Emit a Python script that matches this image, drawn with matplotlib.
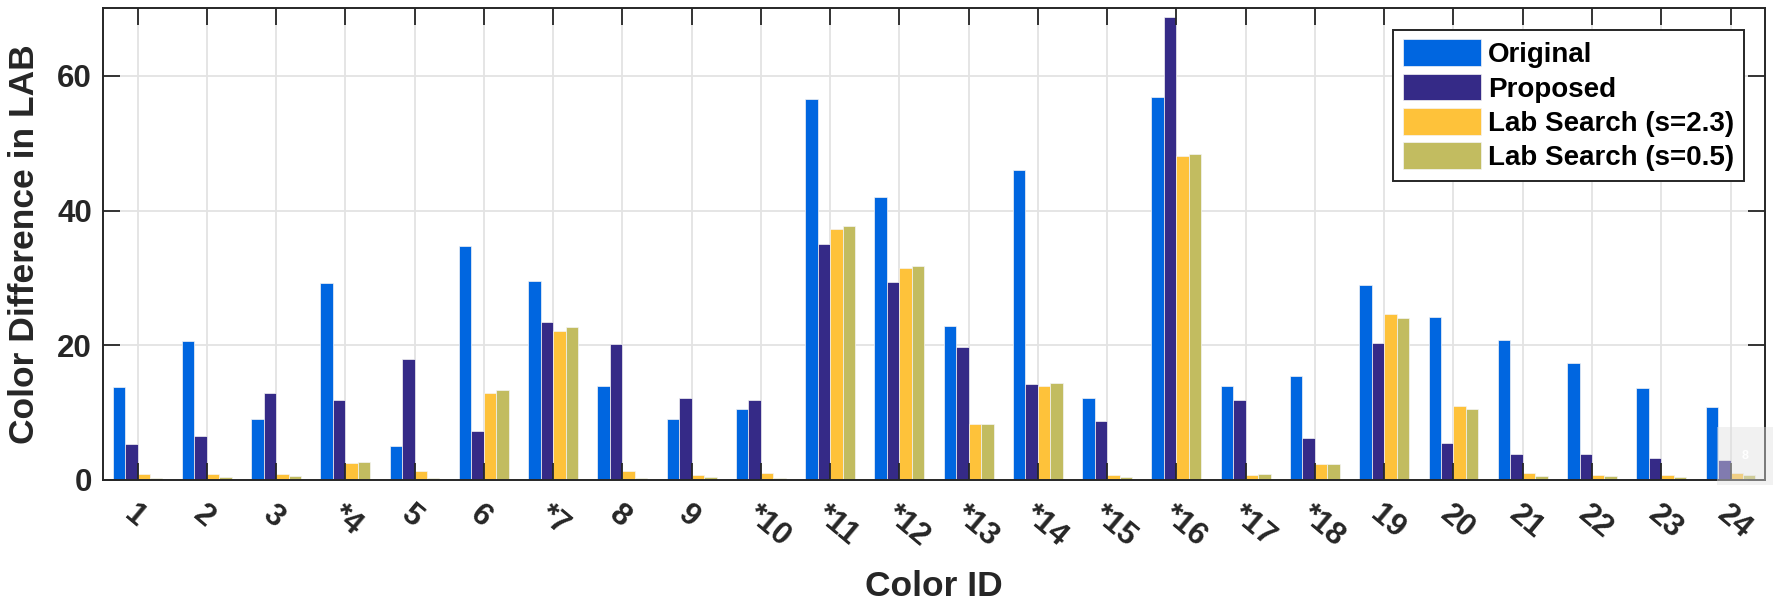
import matplotlib
matplotlib.use("Agg")
import matplotlib.pyplot as plt
from matplotlib.patches import Rectangle
import numpy as np

# values
color_ids = ['1', '2', '3', '*4', '5', '6', '*7', '8', '9', '*10', '*11', '*12',
             '*13', '*14', '*15', '*16', '*17', '*18', '19', '20', '21', '22', '23', '24']
original = [13.8, 20.6, 9.0, 29.3, 5.1, 34.8, 29.6, 14.0, 9.1, 10.5, 56.5, 42.0,
            22.9, 46.0, 12.2, 56.9, 13.9, 15.4, 29.0, 24.2, 20.8, 17.4, 13.6, 10.9]
proposed = [5.4, 6.5, 12.9, 11.9, 17.9, 7.3, 23.5, 20.2, 12.2, 11.8, 35.1, 29.4,
            19.7, 14.3, 8.8, 68.8, 11.9, 6.3, 20.4, 5.5, 3.9, 3.8, 3.2, 2.9]
lab_s23 = [0.9, 0.9, 0.9, 2.5, 1.4, 12.9, 22.1, 1.4, 0.8, 1.0, 37.2, 31.4,
           8.3, 14.0, 0.7, 48.1, 0.8, 2.4, 24.7, 11.0, 1.0, 0.7, 0.7, 1.0]
lab_s05 = [0.35, 0.4, 0.6, 2.7, 0.3, 13.4, 22.7, 0.35, 0.4, 0.3, 37.7, 31.7,
           8.3, 14.4, 0.45, 48.4, 0.85, 2.3, 24.1, 10.5, 0.6, 0.6, 0.45, 0.7]
series_names = ['Original', 'Proposed', 'Lab Search (s=2.3)', 'Lab Search (s=0.5)']
series_colors = ['#0066E0', '#352A87', '#FEC23A', '#C2BC60']
y_ticks = [0, 20, 40, 60]

plt.rcParams['font.family'] = ['Liberation Sans', 'DejaVu Sans']
plt.rcParams['font.weight'] = 'bold'

fig = plt.figure(figsize=(17.74, 6.06), dpi=100)
ax = fig.add_axes([0.058, 0.208, 0.937, 0.778])

x = np.arange(1, len(color_ids) + 1)
series = [original, proposed, lab_s23, lab_s05]
bar_w = 0.18
offsets = (np.arange(len(series)) - 1.5) * bar_w
for vals, off, name, col in zip(series, offsets, series_names, series_colors):
    ax.bar(x + off, vals, width=bar_w, color=col, label=name,
           edgecolor='#F4F4F4', linewidth=0.5, zorder=1)

# grid drawn below the bars, ticks stay on top
for xv in x:
    ax.axvline(xv, color='#E3E3E3', lw=1.3, zorder=0)
for yv in y_ticks:
    ax.axhline(yv, color='#E3E3E3', lw=1.3, zorder=0)

ax.set_xlim(0.5, 24.5)
ax.set_ylim(0, 70)
ax.set_xticks(x)
ax.set_xticklabels(color_ids, rotation=-40, ha='left', va='top',
                   rotation_mode='anchor')
ax.set_yticks(y_ticks)

ax.tick_params(axis='both', direction='in', length=12, width=1.3,
               colors='#262626', labelsize=22.5, top=True, right=True)
ax.tick_params(axis='x', pad=14)
ax.tick_params(axis='y', pad=8)
for lab in ax.get_xticklabels() + ax.get_yticklabels():
    lab.set_fontweight('bold')
for sp in ax.spines.values():
    sp.set_color('#262626')
    sp.set_linewidth(1.4)

ax.set_xlabel('Color ID', fontsize=25.5, fontweight='bold', color='#262626')
ax.xaxis.set_label_coords(0.5, -0.19)
ax.set_ylabel('Color Difference in LAB', fontsize=25.5, fontweight='bold',
              color='#262626')
ax.yaxis.set_label_coords(-0.037, 0.5)

leg = ax.legend(loc='upper right', bbox_to_anchor=(0.987, 0.955),
                borderaxespad=0, fontsize=20, fancybox=False, framealpha=1,
                edgecolor='#262626', handlelength=2.8, handleheight=1.1,
                handletextpad=0.25, labelspacing=0.2, borderpad=0.35)
leg.get_frame().set_linewidth(1.4)
for t in leg.get_texts():
    t.set_fontweight('bold')

# faint page-number box in the lower right corner
ax.add_patch(Rectangle((0.971, -0.01), 0.035, 0.122, transform=ax.transAxes,
                       facecolor='#E0E0E0', alpha=0.45, edgecolor='none',
                       clip_on=False, zorder=3))
ax.text(0.988, 0.05, '8', transform=ax.transAxes, color='white', fontsize=9,
        ha='center', va='center', zorder=4)

fig.savefig('out.png', dpi=100, facecolor='white')
